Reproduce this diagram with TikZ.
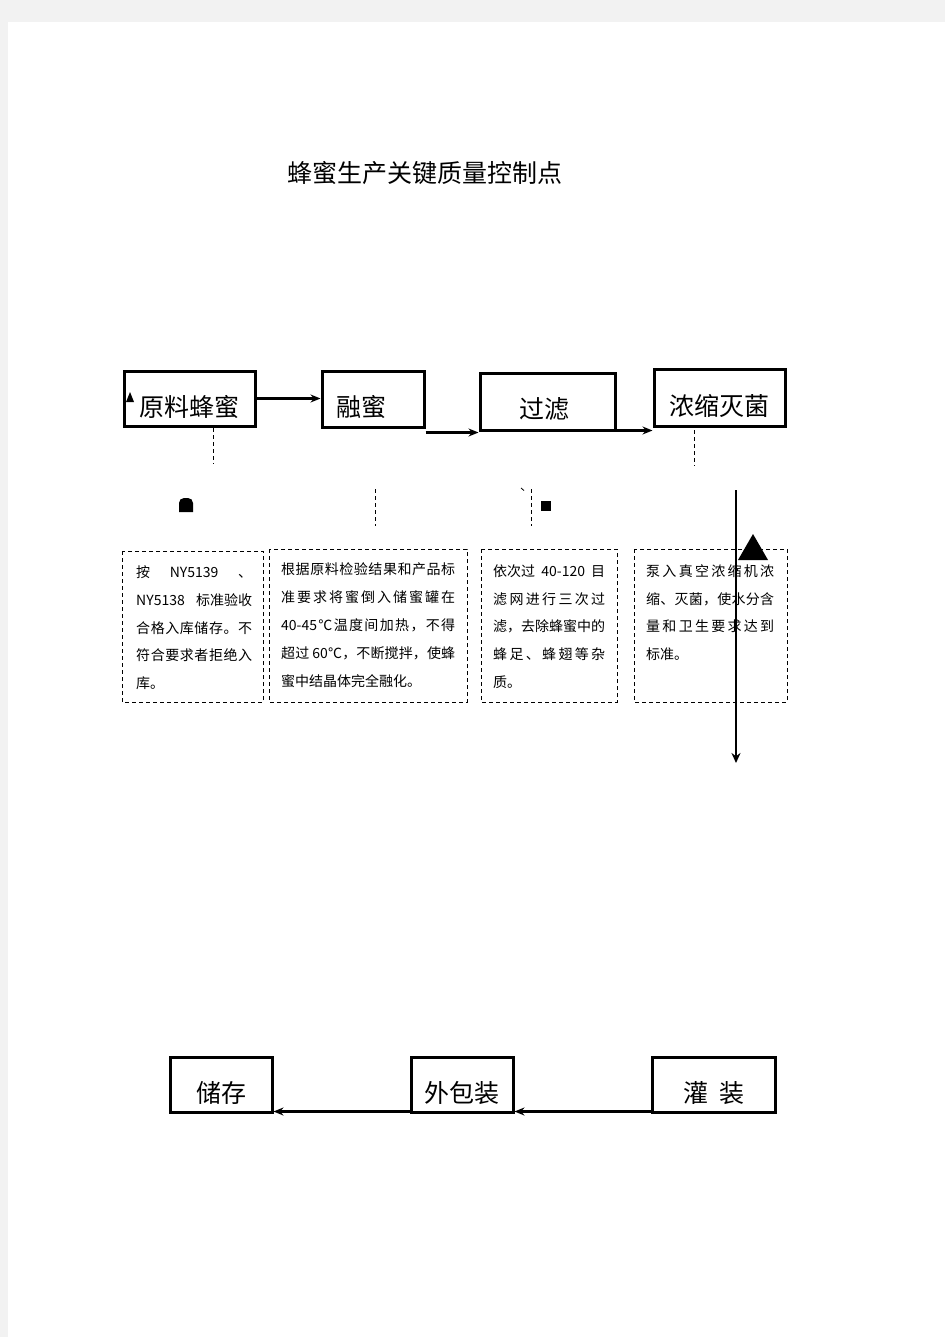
\documentclass[tikz,border=0pt]{standalone}
\usepackage{fontspec}
\setmainfont{Noto Sans CJK SC}
\usetikzlibrary{arrows.meta}
\newcount\cjkcnt
\cjkcnt="4E00
\loop \XeTeXcharclass\cjkcnt=1 \advance\cjkcnt by 1 \ifnum\cjkcnt<"A000 \repeat
\XeTeXcharclass"3001=1 \XeTeXcharclass"3002=1 \XeTeXcharclass"FF0C=1 \XeTeXcharclass"2103=1
\XeTeXinterchartokenstate=1
\XeTeXinterchartoks 1 1={\hskip0pt plus 1fil}
\XeTeXinterchartoks 0 1={\hskip0pt plus 1fil}
\XeTeXinterchartoks 1 0={\hskip0pt plus 1fil}
\newcommand\jl[2]{\makebox[#1][s]{#2}}
\newcommand\lbl[2]{\smash{\raisebox{#1}{#2}}}
\tikzset{
  pbox/.style={draw, line width=3pt, inner sep=0pt, font=\fontsize{25}{25}\selectfont},
  arr/.style={line width=2.2pt, -{Stealth[length=10pt,width=8pt]}},
  dline/.style={line width=1pt, dash pattern=on 4pt off 3pt},
  dbox/.style={line width=0.9pt, dash pattern=on 4pt off 3pt},
  tl/.style={anchor=base west, inner sep=0pt, font=\fontsize{14}{14}\selectfont},
}
\begin{document}
\begin{tikzpicture}[x=1pt,y=-1pt]
\fill[black!5] (0,0) rectangle (945,1337);
\fill[white] (8,22) rectangle (945,1337);
\useasboundingbox (0,0) rectangle (945,1337);

\node[anchor=base, inner sep=0pt, font=\fontsize{25}{25}\selectfont] (title) at (425,183) {蜂蜜生产关键质量控制点};

% top row boxes
\node[pbox, minimum width=131pt, minimum height=55pt] (b1) at (189.5,398.5) {\lbl{-18pt}{原料蜂蜜}};
\node[pbox, minimum width=102pt, minimum height=56pt] (b2) at (373,399) {\lbl{-17.5pt}{融蜜}\kern24pt};
\node[pbox, minimum width=135pt, minimum height=57pt] (b3) at (547.5,401.5) {\lbl{-17pt}{过滤}\kern7pt};
\node[pbox, minimum width=131pt, minimum height=57pt] (b4) at (719.5,397.5) {\lbl{-18pt}{浓缩灭菌}};

% bottom row boxes
\node[pbox, minimum width=102pt, minimum height=55pt] (b5) at (221,1084.5) {\lbl{-18pt}{储存}};
\node[pbox, minimum width=102pt, minimum height=55pt] (b6) at (462,1084.5) {\lbl{-18pt}{外包装}};
\node[pbox, minimum width=123pt, minimum height=55pt] (b7) at (713.5,1084.5) {\lbl{-18pt}{灌\kern11pt 装}};

% arrows top row
\draw[arr] (b1.east) -- (b1.east -| b2.west);
\coordinate (c2) at ([yshift=-4pt]b2.south east);
\draw[arr] (c2) -- (c2 -| b3.west);
\coordinate (c3) at ([yshift=1pt]b3.south east);
\draw[arr] (c3) -- (c3 -| b4.west);

% arrows bottom row
\coordinate (c6) at ([yshift=2pt]b6.south west);
\draw[arr] (c6) -- (c6 -| b5.east);
\coordinate (c7) at ([yshift=2pt]b7.south west);
\draw[arr] (c7) -- (c7 -| b6.east);

% small marks
\fill (126,402) -- (134,402) -- (130,392) -- cycle;
\fill (179,512) [rounded corners=5pt]-- (179,498) -- (193,498) [sharp corners]-- (193,512) -- cycle;
\fill (541,501) rectangle (551,511);
\draw[line width=0.8pt] (521,488) -- (524,490.5);

% dashed leaders
\draw[dline] (213,428) -- (213,464);
\draw[dline] (375,489) -- (375,526);
\draw[dline] (531,489) -- (531,526);
\draw[dline] (694,430) -- (694,466);

% dashed boxes
\draw[dbox] (122,551) rectangle (263,702);
\draw[dbox] (269,549) rectangle (467,702);
\draw[dbox] (481,549) rectangle (617,702);
\draw[dbox] (634,549) rectangle (787,702);

% box A text
\node[tl] (a1) at (136,577) {\jl{116pt}{按\hfill NY5139\hfill 、}};
\node[tl] (a2) at (136,605) {\jl{116pt}{NY5138\hfill 标准验收}};
\node[tl] (a3) at (136,633) {\jl{116pt}{合格入库储存。不}};
\node[tl] (a4) at (136,660) {\jl{116pt}{符合要求者拒绝入}};
\node[tl] (a5) at (136,688) {库。};

% box B text
\node[tl] (p1) at (281,574) {\jl{174pt}{根据原料检验结果和产品标}};
\node[tl] (p2) at (281,602) {\jl{174pt}{准要求将蜜倒入储蜜罐在}};
\node[tl] (p3) at (281,630) {\jl{174pt}{40-45℃温度间加热，不得}};
\node[tl] (p4) at (281,658) {\jl{174pt}{超过 60℃，不断搅拌，使蜂}};
\node[tl] (p5) at (281,686) {蜜中结晶体完全融化。};

% box C text
\node[tl] (q1) at (493,576) {\jl{112pt}{依次过\hfill 40-120\hfill 目}};
\node[tl] (q2) at (493,604) {\jl{112pt}{滤网进行三次过}};
\node[tl] (q3) at (493,631) {\jl{112pt}{滤，去除蜂蜜中的}};
\node[tl] (q4) at (493,659) {\jl{112pt}{蜂足、蜂翅等杂}};
\node[tl] (q5) at (493,687) {质。};

% box D text
\node[tl] (r1) at (646,576) {\jl{128pt}{泵入真空浓缩机浓}};
\node[tl] (r2) at (646,604) {\jl{128pt}{缩、灭菌，使水分含}};
\node[tl] (r3) at (646,631) {\jl{128pt}{量和卫生要求达到}};
\node[tl] (r4) at (646,659) {标准。};

% long vertical arrow and big triangle
\coordinate (v1) at (736,490);
\coordinate (v2) at (736,763);
\draw[line width=2.8pt, -{Stealth[length=10pt,width=9pt]}] (v1) -- (v2);
\fill (738,560) -- (768,560) -- (753,534) -- cycle;
\end{tikzpicture}
\end{document}
